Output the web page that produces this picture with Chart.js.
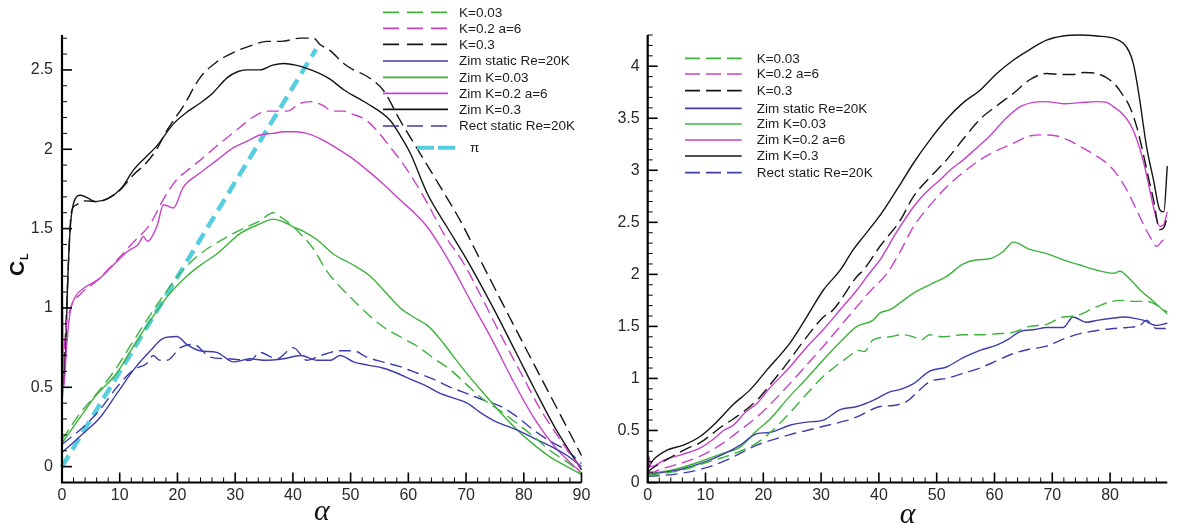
<!DOCTYPE html>
<html><head><meta charset="utf-8">
<script src="https://cdn.jsdelivr.net/npm/chart.js@4.4.1/dist/chart.umd.min.js"></script>
<style>
html,body{margin:0;padding:0;background:#fff;}
#wrap{position:relative;width:1177px;height:525px;overflow:hidden;background:#fff;}
canvas{position:absolute;top:0;}
#cl{left:0;} #cd{left:590px;}
</style></head><body>
<div id="wrap"><canvas id="cl" width="600" height="525"></canvas><canvas id="cd" width="587" height="525"></canvas></div>
<script>
// ---------- tick labels ----------
const alphaTicksL = [0,10,20,30,40,50,60,70,80,90];
const alphaTicksR = [0,10,20,30,40,50,60,70,80];
const clTicks = [0,0.5,1,1.5,2,2.5];
const cdTicks = [0,0.5,1,1.5,2,2.5,3,3.5,4];

const seriesLabels = ['K=0.03','K=0.2 a=6','K=0.3','Zim static Re=20K','Zim K=0.03','Zim K=0.2 a=6','Zim K=0.3','Rect static Re=20K'];
const piLabel = 'π';

// ---------- CL vs alpha  ([alpha, CL]) ----------
const clK003 = [[0,0.17],[3,0.33],[6,0.46],[9,0.6],[12,0.77],[15,0.94],[18,1.10],[21,1.24],[23.9,1.34],[26.8,1.41],[29.7,1.47],[32,1.51],[34.3,1.55],[36.6,1.60],[38,1.57],[39.5,1.53],[41.5,1.46],[43.6,1.37],[45.9,1.23],[48,1.14],[51,1.03],[53,0.96],[55.7,0.88],[58.5,0.82],[61.5,0.76],[64.5,0.68],[67.3,0.61],[70,0.52],[73.1,0.42],[76,0.35],[78.9,0.27],[81.7,0.19],[84.6,0.10],[87.5,0.03],[90,-0.04]];
const clK02 = [[0,0.4],[0.5,0.8],[1.5,1.0],[3,1.08],[6,1.17],[9.5,1.30],[12,1.40],[15.3,1.53],[17.5,1.68],[19.9,1.81],[21.5,1.86],[23.9,1.93],[26.8,2.02],[30.9,2.14],[33,2.20],[35.5,2.24],[37,2.24],[39,2.24],[41.3,2.29],[43,2.30],[45,2.28],[47,2.24],[48.8,2.24],[50.5,2.22],[52.8,2.18],[54.5,2.12],[56.3,2.04],[59.8,1.87],[63.3,1.66],[66.1,1.47],[69.6,1.28],[72.8,1.06],[76,0.83],[79.5,0.59],[82.9,0.36],[86.5,0.16],[90,-0.02]];
const clK03 = [[0,0.4],[0.7,0.9],[1.2,1.35],[1.6,1.60],[2.5,1.65],[4,1.675],[6.3,1.67],[8,1.69],[10,1.74],[12.4,1.84],[14.5,1.91],[16.4,2.0],[18.2,2.12],[21,2.27],[23.9,2.45],[26.8,2.55],[29.7,2.61],[32.5,2.65],[35.5,2.68],[38,2.68],[41.3,2.70],[43.6,2.70],[44.7,2.66],[46.5,2.62],[48.8,2.54],[50.5,2.50],[52.8,2.46],[55.7,2.37],[58.6,2.18],[62.1,1.97],[65.6,1.76],[69,1.55],[72.5,1.30],[77,0.98],[81.7,0.65],[86,0.35],[90,0.07]];
const clZimStatic = [[0,0.09],[1,0.12],[3.7,0.21],[6.6,0.31],[9.5,0.46],[12.4,0.61],[15.3,0.73],[17.6,0.81],[19.9,0.82],[21.6,0.77],[23.9,0.73],[26.8,0.72],[29.7,0.66],[32.6,0.68],[34.9,0.67],[38.4,0.68],[41.3,0.70],[44.2,0.67],[46.5,0.67],[48.2,0.70],[50.5,0.66],[53,0.64],[55.7,0.62],[58,0.59],[60.4,0.55],[63,0.51],[65.6,0.46],[68,0.43],[70.2,0.40],[72.5,0.34],[74.8,0.29],[78.9,0.23],[81.7,0.18],[84.6,0.13],[87.5,0.07],[90,0.0]];
const clZimK003 = [[0,0.15],[0.8,0.19],[3.7,0.34],[5.7,0.44],[9.5,0.59],[12.4,0.76],[15.3,0.92],[18.2,1.07],[21.6,1.20],[24,1.27],[26.8,1.34],[30.9,1.47],[34.3,1.53],[36.6,1.56],[38.5,1.54],[40.1,1.51],[42,1.48],[44.2,1.43],[47,1.34],[50,1.28],[53.4,1.20],[56,1.10],[58.6,1.00],[61,0.94],[63.3,0.89],[65.6,0.80],[67.9,0.69],[70.5,0.57],[73.1,0.46],[76,0.34],[78.9,0.23],[81.7,0.14],[84.6,0.06],[87.5,0.0],[90,-0.05]];
const clZimK02 = [[0,1.32],[0.3,0.5],[0.8,0.76],[1.4,0.97],[2.3,1.07],[4,1.13],[6.3,1.18],[8.6,1.26],[11.5,1.36],[13.2,1.40],[14.1,1.45],[14.8,1.42],[16.4,1.51],[17.6,1.65],[19.3,1.63],[21,1.76],[23.9,1.85],[26.8,1.93],[29.7,2.01],[32,2.05],[34.3,2.09],[36.5,2.10],[38.4,2.11],[40.5,2.11],[42.4,2.10],[44.5,2.07],[47,2.02],[50,1.95],[52.8,1.87],[55.7,1.78],[58.6,1.68],[61,1.60],[63.3,1.51],[65.5,1.39],[67.6,1.26],[71,1.03],[74.8,0.78],[78,0.55],[81.7,0.31],[85.5,0.12],[90,-0.04]];
const clZimK03 = [[0,0.45],[0.6,0.71],[1.0,1.18],[1.4,1.49],[2.0,1.66],[3.2,1.71],[4.6,1.69],[5.8,1.67],[8,1.69],[10.4,1.76],[12.4,1.87],[14.5,1.95],[16.4,2.02],[19.3,2.16],[21.5,2.23],[23.9,2.29],[26,2.35],[28.6,2.45],[30.5,2.49],[32,2.50],[34.3,2.50],[36.5,2.53],[38.4,2.54],[40.5,2.53],[42.4,2.51],[44.5,2.48],[46.5,2.44],[49,2.37],[52.8,2.29],[56.9,2.18],[58.7,2.08],[60.4,1.97],[63.3,1.72],[66.7,1.51],[70.2,1.30],[75,0.98],[78.5,0.73],[81.7,0.50],[85.5,0.24],[90,-0.02]];
const clRectStatic = [[0,0.14],[3.7,0.25],[6.6,0.36],[9.5,0.50],[12.4,0.61],[14.7,0.65],[15.8,0.70],[17,0.67],[18.2,0.67],[20.5,0.75],[22.8,0.77],[25.7,0.69],[28.6,0.68],[32.6,0.67],[34.3,0.72],[37.2,0.68],[40.1,0.75],[42.4,0.67],[44.8,0.70],[48.2,0.73],[50.5,0.73],[52.8,0.69],[55.5,0.66],[58.6,0.63],[61.5,0.59],[64.4,0.55],[67.3,0.50],[70.2,0.46],[73,0.42],[76,0.38],[79,0.31],[81.7,0.23],[84.6,0.16],[87.5,0.10],[90,0.02]];
const clPi = [[0,0],[44,2.63]];

// ---------- CD vs alpha  ([alpha, CD]) ----------
const cdK003 = [[0,0.07],[3,0.09],[6,0.12],[10,0.19],[13,0.24],[16,0.30],[18.9,0.38],[21,0.47],[24.6,0.67],[27.5,0.85],[30.4,1.02],[33.3,1.15],[35,1.22],[36.2,1.27],[37.5,1.26],[39,1.37],[41.9,1.40],[44,1.42],[46,1.40],[47.3,1.37],[48.8,1.42],[51,1.40],[54.6,1.42],[58,1.42],[60.4,1.43],[63,1.44],[66.1,1.50],[69,1.52],[71.9,1.59],[74,1.60],[77.7,1.69],[81.7,1.75],[84,1.74],[86.3,1.74],[89.9,1.64]];
const cdK02 = [[0,0.08],[3,0.14],[6,0.19],[9,0.25],[13.1,0.38],[15,0.46],[18.9,0.63],[21,0.74],[24.6,0.95],[27.5,1.13],[30.4,1.31],[33.3,1.50],[36.2,1.69],[38.5,1.84],[41.4,2.01],[43.5,2.2],[46,2.46],[48.8,2.66],[51.7,2.84],[54.6,2.98],[57.5,3.10],[60.4,3.19],[63.3,3.26],[66.1,3.33],[68.5,3.34],[70.8,3.33],[72.8,3.29],[74.8,3.23],[77,3.16],[79.4,3.07],[81.2,2.96],[82.9,2.81],[84.5,2.63],[85.7,2.49],[87,2.35],[88,2.27],[89.2,2.33],[89.9,2.35]];
const cdK03 = [[0,0.1],[0.4,0.12],[3.3,0.22],[7.3,0.34],[9,0.38],[13.1,0.55],[14.8,0.61],[18.9,0.79],[20.6,0.9],[24.6,1.18],[26.3,1.31],[30.4,1.59],[32.1,1.66],[36.2,1.98],[37.3,2.04],[40.2,2.27],[43.7,2.52],[46,2.75],[48.8,2.93],[51.7,3.10],[54.6,3.30],[57.5,3.49],[60.4,3.62],[63.3,3.74],[66.1,3.87],[69,3.93],[71.5,3.92],[73.6,3.92],[75.5,3.94],[77.7,3.93],[80.6,3.84],[82,3.74],[83.4,3.61],[84.6,3.42],[85.7,3.17],[86.6,2.94],[87.5,2.72],[88.6,2.43],[89.3,2.45],[89.9,2.55]];
const cdZimStatic = [[0,0.08],[3,0.1],[6,0.13],[10,0.2],[13,0.27],[16,0.36],[18.9,0.47],[21,0.48],[24.6,0.55],[27.5,0.58],[30.4,0.60],[33.3,0.70],[36.2,0.73],[39,0.79],[41.9,0.87],[44,0.90],[46,0.95],[48.8,1.07],[51.7,1.11],[54.6,1.20],[57.5,1.27],[60.4,1.32],[62.5,1.38],[64.4,1.45],[67,1.47],[69,1.49],[71.9,1.49],[73.6,1.59],[75.9,1.54],[78,1.56],[80.6,1.58],[82.3,1.59],[84,1.58],[85.7,1.56],[88,1.51],[89.9,1.53]];
const cdZimK003 = [[0,0.09],[2,0.1],[5,0.13],[8,0.18],[10,0.22],[13,0.28],[16,0.34],[18.9,0.50],[21,0.6],[24.6,0.83],[27.5,1.0],[30.4,1.18],[33.3,1.35],[36.2,1.50],[39,1.56],[40.2,1.63],[41.9,1.66],[44,1.74],[46,1.82],[48.8,1.90],[51.7,1.98],[54.6,2.10],[57,2.14],[59.2,2.15],[61.5,2.22],[63.3,2.31],[66.1,2.24],[69,2.20],[71.9,2.14],[74.8,2.09],[77.7,2.04],[80.6,2.01],[81.7,2.03],[83.5,1.95],[85.2,1.85],[87.5,1.74],[89.9,1.62]];
const cdZimK02 = [[0,0.1],[0.2,0.25],[0.5,0.15],[3,0.22],[6,0.27],[9,0.33],[11.9,0.44],[13.1,0.50],[14.8,0.55],[17,0.68],[18.9,0.76],[21,0.9],[24.6,1.11],[27.5,1.30],[30.4,1.47],[33.3,1.66],[36.2,1.85],[38.5,2.02],[40.2,2.14],[43,2.40],[46,2.65],[48,2.78],[50.6,2.91],[52.5,3.01],[54.6,3.10],[57,3.22],[59.2,3.33],[62,3.50],[64.4,3.61],[66.5,3.65],[69,3.66],[72,3.64],[74.8,3.65],[77.7,3.66],[79.5,3.65],[80.6,3.61],[82,3.55],[83.4,3.45],[84.6,3.30],[85.7,3.10],[86.6,2.88],[87.5,2.65],[88.6,2.46],[89.3,2.48],[89.9,2.60]];
const cdZimK03 = [[0,0.12],[0.4,0.17],[1,0.22],[3.3,0.31],[6.2,0.36],[9,0.44],[11.9,0.58],[14.8,0.75],[17.7,0.89],[20.6,1.08],[24.6,1.34],[27.5,1.59],[30.4,1.85],[33.3,2.04],[35.6,2.24],[37.3,2.36],[40.5,2.59],[43.3,2.83],[46,3.07],[48.8,3.29],[51.7,3.49],[54.6,3.65],[57.5,3.77],[60.4,3.93],[63.3,4.06],[66.1,4.16],[69,4.25],[71.9,4.29],[74.8,4.30],[77.7,4.29],[80.6,4.27],[82.3,4.22],[83.3,4.14],[84,4.03],[84.6,3.86],[85.2,3.65],[86.3,3.23],[87.5,2.91],[88.6,2.62],[89.3,2.60],[89.9,3.04]];
const cdRectStatic = [[0,0.06],[3,0.07],[6,0.09],[10,0.14],[13,0.2],[16,0.28],[18.9,0.36],[21,0.40],[24.6,0.46],[27.5,0.50],[30.4,0.54],[33.3,0.58],[36.2,0.63],[38,0.68],[40.2,0.73],[42.5,0.74],[44.8,0.78],[46.5,0.86],[48.8,0.97],[51.7,1.0],[54.6,1.05],[57.5,1.10],[60.4,1.17],[63.3,1.24],[66,1.28],[69,1.31],[72,1.38],[74.8,1.43],[77.7,1.46],[80.6,1.48],[83,1.49],[85.2,1.51],[86.3,1.56],[88,1.48],[89.9,1.48]];

// ---------- styles ----------
const GREEN='#3cb43c', PINK='#c942c6', BLACK='#151515', BLUE='#3d3dad', CYAN='#57cde0';
const lineStyles = [
  {c:GREEN,d:[12,6]},{c:PINK,d:[12,6]},{c:BLACK,d:[13,6]},{c:BLUE,d:[]},
  {c:GREEN,d:[]},{c:PINK,d:[]},{c:BLACK,d:[]},{c:BLUE,d:[12,6]}
];
function pts(a){return a.map(p=>({x:p[0],y:p[1]}));}
function mkSets(arrs){
  return arrs.map((a,i)=>({label:seriesLabels[i], data:pts(a), borderColor:lineStyles[i].c,
    borderDash:lineStyles[i].d, borderWidth:1.4, pointRadius:0, showLine:true, fill:false,
    cubicInterpolationMode:'monotone', clip:false}));
}

const framePlugin = {
  id:'frame',
  afterDatasetsDraw(chart, args, o){
    const {ctx, chartArea:{left,right,top,bottom}, scales:{x,y}} = chart;
    ctx.save();
    ctx.strokeStyle='#000';
    const ln=(a,b,c,d)=>{ctx.beginPath();ctx.moveTo(a,b);ctx.lineTo(c,d);ctx.stroke();};
    ctx.lineWidth=1;
    for(let k=0;k*2<=x.max+1e-6;k++){const v=k*2; if(v%10!==0){const p=x.getPixelForValue(v); ln(p,bottom,p,bottom-5);}}
    for(let k=Math.ceil(y.min*10-1e-6);k<=Math.floor(y.max*10+1e-6);k++){ if(k%5!==0){const p=y.getPixelForValue(k/10); ln(left,p,left+5,p);} }
    ctx.lineWidth=1.6;
    o.xMajor.forEach(v=>{const p=x.getPixelForValue(v); ln(p,bottom,p,bottom-10);});
    o.yMajor.forEach(v=>{const p=y.getPixelForValue(v); ln(left,p,left+10,p);});
    ctx.lineWidth=2.2;
    ctx.beginPath();ctx.moveTo(left,top);ctx.lineTo(left,bottom);ctx.lineTo(right,bottom);ctx.stroke();
    // titles
    ctx.fillStyle='#111';
    ctx.font='italic 30px "Liberation Serif", "DejaVu Serif", serif';
    ctx.textAlign='center'; ctx.textBaseline='alphabetic';
    ctx.fillText('α',(left+right)/2,o.alphaY);
    ctx.translate(o.cx,o.cy); ctx.rotate(-Math.PI/2);
    ctx.textAlign='left';
    ctx.font='bold 21px "Liberation Sans", Arial, sans-serif';
    ctx.fillText('C',0,0);
    ctx.font='bold 11px "Liberation Sans", Arial, sans-serif';
    ctx.fillText(o.sub,16,4);
    ctx.restore();
  }
};

const legendPlugin = {
  id:'clegend',
  afterDatasetsDraw(chart, args, o){
    const {ctx} = chart;
    ctx.save();
    ctx.font='13.5px "Liberation Sans", Arial, sans-serif';
    ctx.textBaseline='middle'; ctx.textAlign='left';
    chart.data.datasets.forEach((ds,i)=>{
      const r=o.rows[i]; if(!r) return;
      const x0=r.x0??o.x0, x1=r.x1??o.x1, tx=r.tx??o.tx;
      ctx.strokeStyle=ds.borderColor; ctx.lineWidth=r.w??1.7;
      ctx.setLineDash(r.dash ?? ((ds.borderDash && ds.borderDash.length)?o.dash:[]));
      ctx.beginPath(); ctx.moveTo(x0,r.y); ctx.lineTo(x1,r.y); ctx.stroke();
      ctx.setLineDash([]);
      ctx.fillStyle='#1c1c1c';
      ctx.fillText(ds.label,tx,r.y+0.5);
    });
    ctx.restore();
  }
};

function makeChart(id,cfg){
  const tickFont={family:'"Liberation Sans", Arial, sans-serif', size:16};
  return new Chart(document.getElementById(id),{
    type:'scatter',
    data:{datasets:cfg.datasets},
    options:{
      responsive:false, animation:false, devicePixelRatio:1,
      layout:{padding:cfg.padding},
      plugins:{legend:{display:false}, tooltip:{enabled:false}, frame:cfg.frame, clegend:cfg.legend},
      scales:{
        x:{type:'linear', min:0, max:cfg.xmax, grid:{display:false,drawTicks:false}, border:{display:false},
          afterBuildTicks:s=>{s.ticks=cfg.xTicks.map(v=>({value:v}));},
          afterFit:s=>{s.height=cfg.xh;},
          ticks:{font:tickFont, color:'#2a2a2a', padding:3, maxRotation:0, autoSkip:false, callback:v=>String(v)}},
        y:{type:'linear', min:cfg.ymin, max:cfg.ymax, grid:{display:false,drawTicks:false}, border:{display:false},
          afterBuildTicks:s=>{s.ticks=cfg.yTicks.map(v=>({value:v}));},
          afterFit:s=>{s.width=cfg.yw;},
          ticks:{font:tickFont, color:'#2a2a2a', padding:cfg.ypad, autoSkip:false, callback:v=>String(v)}}
      }
    },
    plugins:[framePlugin, legendPlugin]
  });
}

// ---------- left: CL ----------
const clSets = mkSets([clK003,clK02,clK03,clZimStatic,clZimK003,clZimK02,clZimK03,clRectStatic]);
clSets.push({label:piLabel, data:pts(clPi), borderColor:CYAN, borderDash:[13,7], borderWidth:4.5,
  pointRadius:0, showLine:true, fill:false, clip:false});
makeChart('cl',{
  datasets:clSets, xmax:90, ymin:-0.1, ymax:2.72, xTicks:alphaTicksL, yTicks:clTicks,
  padding:{left:0,right:18.5,top:35,bottom:0}, xh:42.5, yw:62, ypad:9,
  frame:{xMajor:alphaTicksL, yMajor:clTicks, alphaY:520, cx:24, cy:276, sub:'L'},
  legend:{x0:383,x1:448,tx:459,dash:[16,8],
    rows:[{y:12.3},{y:28.3},{y:44.3},{y:61},{y:77.3},{y:93.3},{y:109.3},{y:126},
          {y:147.7,x0:417,x1:455,tx:470,dash:[17,4],w:4}]}
});

// ---------- right: CD ----------
makeChart('cd',{
  datasets:mkSets([cdK003,cdK02,cdK03,cdZimStatic,cdZimK003,cdZimK02,cdZimK03,cdRectStatic]),
  xmax:89.9, ymin:0, ymax:4.3, xTicks:alphaTicksR, yTicks:cdTicks,
  padding:{left:0,right:9.7,top:35,bottom:0}, xh:42.5, yw:57.7, ypad:8,
  frame:{xMajor:alphaTicksR, yMajor:cdTicks, alphaY:523, cx:607, cy:273, sub:'D'},
  legend:{x0:95,x1:151.7,tx:166.7,dash:[15,6],
    rows:[{y:58.3},{y:74},{y:90.7},{y:108.3},{y:124},{y:140},{y:156},{y:172.7}]}
});
</script>
</body></html>
